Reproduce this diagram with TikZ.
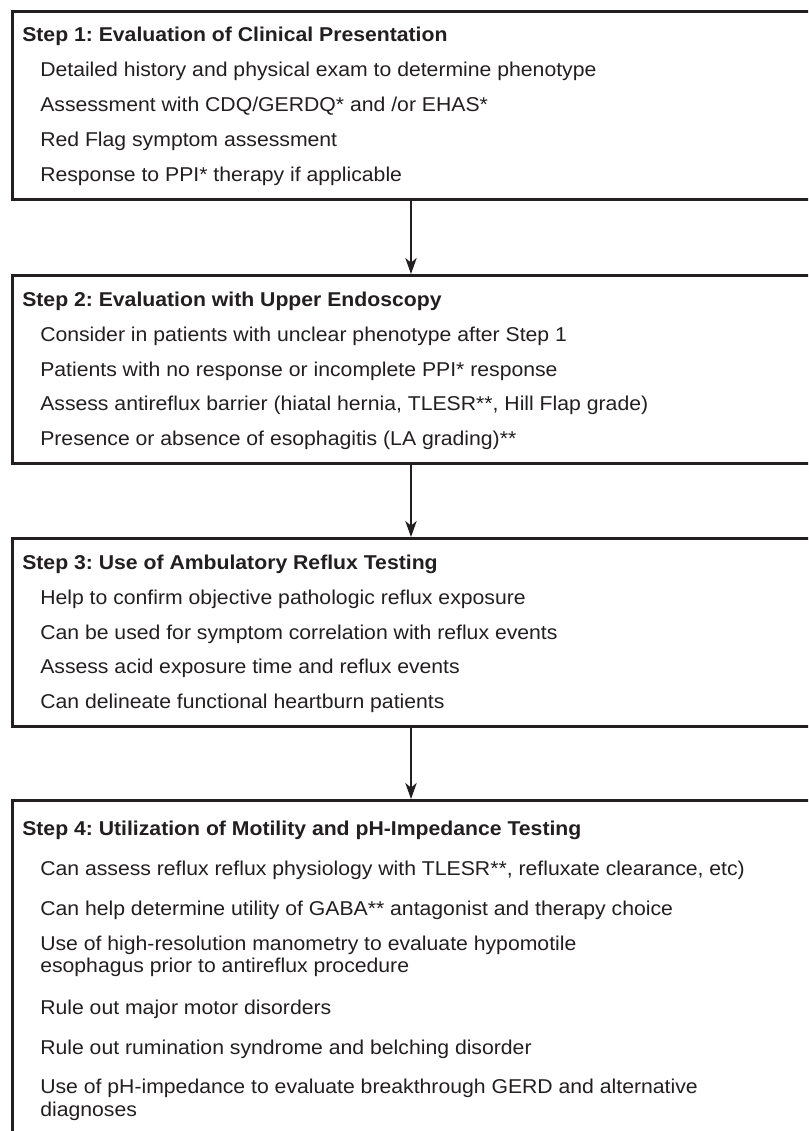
\documentclass[tikz,border=0pt]{standalone}
\usepackage{fontspec}
\setmainfont{Liberation Sans}[FakeStretch=1.06]
\usetikzlibrary{arrows.meta}
\definecolor{ink}{HTML}{231F20}
\frenchspacing
\begin{document}
\begin{tikzpicture}[x=0.75pt,y=-0.75pt,
  stepbox/.style={draw=ink, line width=2.25pt, rectangle, inner sep=0pt,
    anchor=north west, minimum width=637.5pt, minimum height=141pt},
  title/.style={anchor=base west, inner sep=0pt, text=ink,
    font=\fontsize{15}{18}\selectfont\bfseries},
  item/.style={anchor=base west, inner sep=0pt, text=ink,
    font=\fontsize{15}{18}\selectfont},
  arr/.style={draw=ink, line width=1.5pt,
    -{Stealth[length=12pt,width=8.5pt,inset=3.5pt]}}]
\useasboundingbox (0,0) rectangle (808,1131);
\clip (0,0) rectangle (808,1131);
\fill[white] (0,0) rectangle (808,1131);

% boxes
\node[stepbox] (b1) at (11,10) {};
\node[stepbox] (b2) at (11,274) {};
\node[stepbox] (b3) at (11,537) {};
\node[stepbox, minimum height=300pt] (b4) at (11,799) {};
\coordinate (ax) at (411,0);

% Step 1
\node[title] (t1) at (22,42) {Step 1: Evaluation of Clinical Presentation};
\node[item] (i11) at (40,77) {Detailed history and physical exam to determine phenotype};
\node[item] (i12) at (40,112) {Assessment with CDQ/GERDQ* and /or EHAS*};
\node[item] (i13) at (40,146) {Red Flag symptom assessment};
\node[item] (i14) at (40,181) {Response to PPI* therapy if applicable};

% Step 2
\node[title] (t2) at (22,306) {Step 2: Evaluation with Upper Endoscopy};
\node[item] (i21) at (40,341) {Consider in patients with unclear phenotype after Step 1};
\node[item] (i22) at (40,376) {Patients with no response or incomplete PPI* response};
\node[item] (i23) at (40,410) {Assess antireflux barrier (hiatal hernia, TLESR**, Hill Flap grade)};
\node[item] (i24) at (40,445) {Presence or absence of esophagitis (LA grading)**};

% Step 3
\node[title] (t3) at (22,569) {Step 3: Use of Ambulatory Reflux Testing};
\node[item] (i31) at (40,604) {Help to confirm objective pathologic reflux exposure};
\node[item] (i32) at (40,639) {Can be used for symptom correlation with reflux events};
\node[item] (i33) at (40,673) {Assess acid exposure time and reflux events};
\node[item] (i34) at (40,708) {Can delineate functional heartburn patients};

% Step 4
\node[title] (t4) at (22,835) {Step 4: Utilization of Motility and pH-Impedance Testing};
\node[item] (i41) at (40,875) {Can assess reflux reflux physiology with TLESR**, refluxate clearance, etc)};
\node[item] (i42) at (40,915) {Can help determine utility of GABA** antagonist and therapy choice};
\node[item] (i43a) at (40,950) {Use of high-resolution manometry to evaluate hypomotile};
\node[item] (i43b) at (40,972) {esophagus prior to antireflux procedure};
\node[item] (i44) at (40,1014) {Rule out major motor disorders};
\node[item] (i45) at (40,1054) {Rule out rumination syndrome and belching disorder};
\node[item] (i46a) at (40,1093) {Use of pH-impedance to evaluate breakthrough GERD and alternative};
\node[item] (i46b) at (40,1116) {diagnoses};

% arrows
\draw[arr] (b1.south -| ax) -- (b2.north -| ax);
\draw[arr] (b2.south -| ax) -- (b3.north -| ax);
\draw[arr] (b3.south -| ax) -- (b4.north -| ax);
\end{tikzpicture}
\end{document}
